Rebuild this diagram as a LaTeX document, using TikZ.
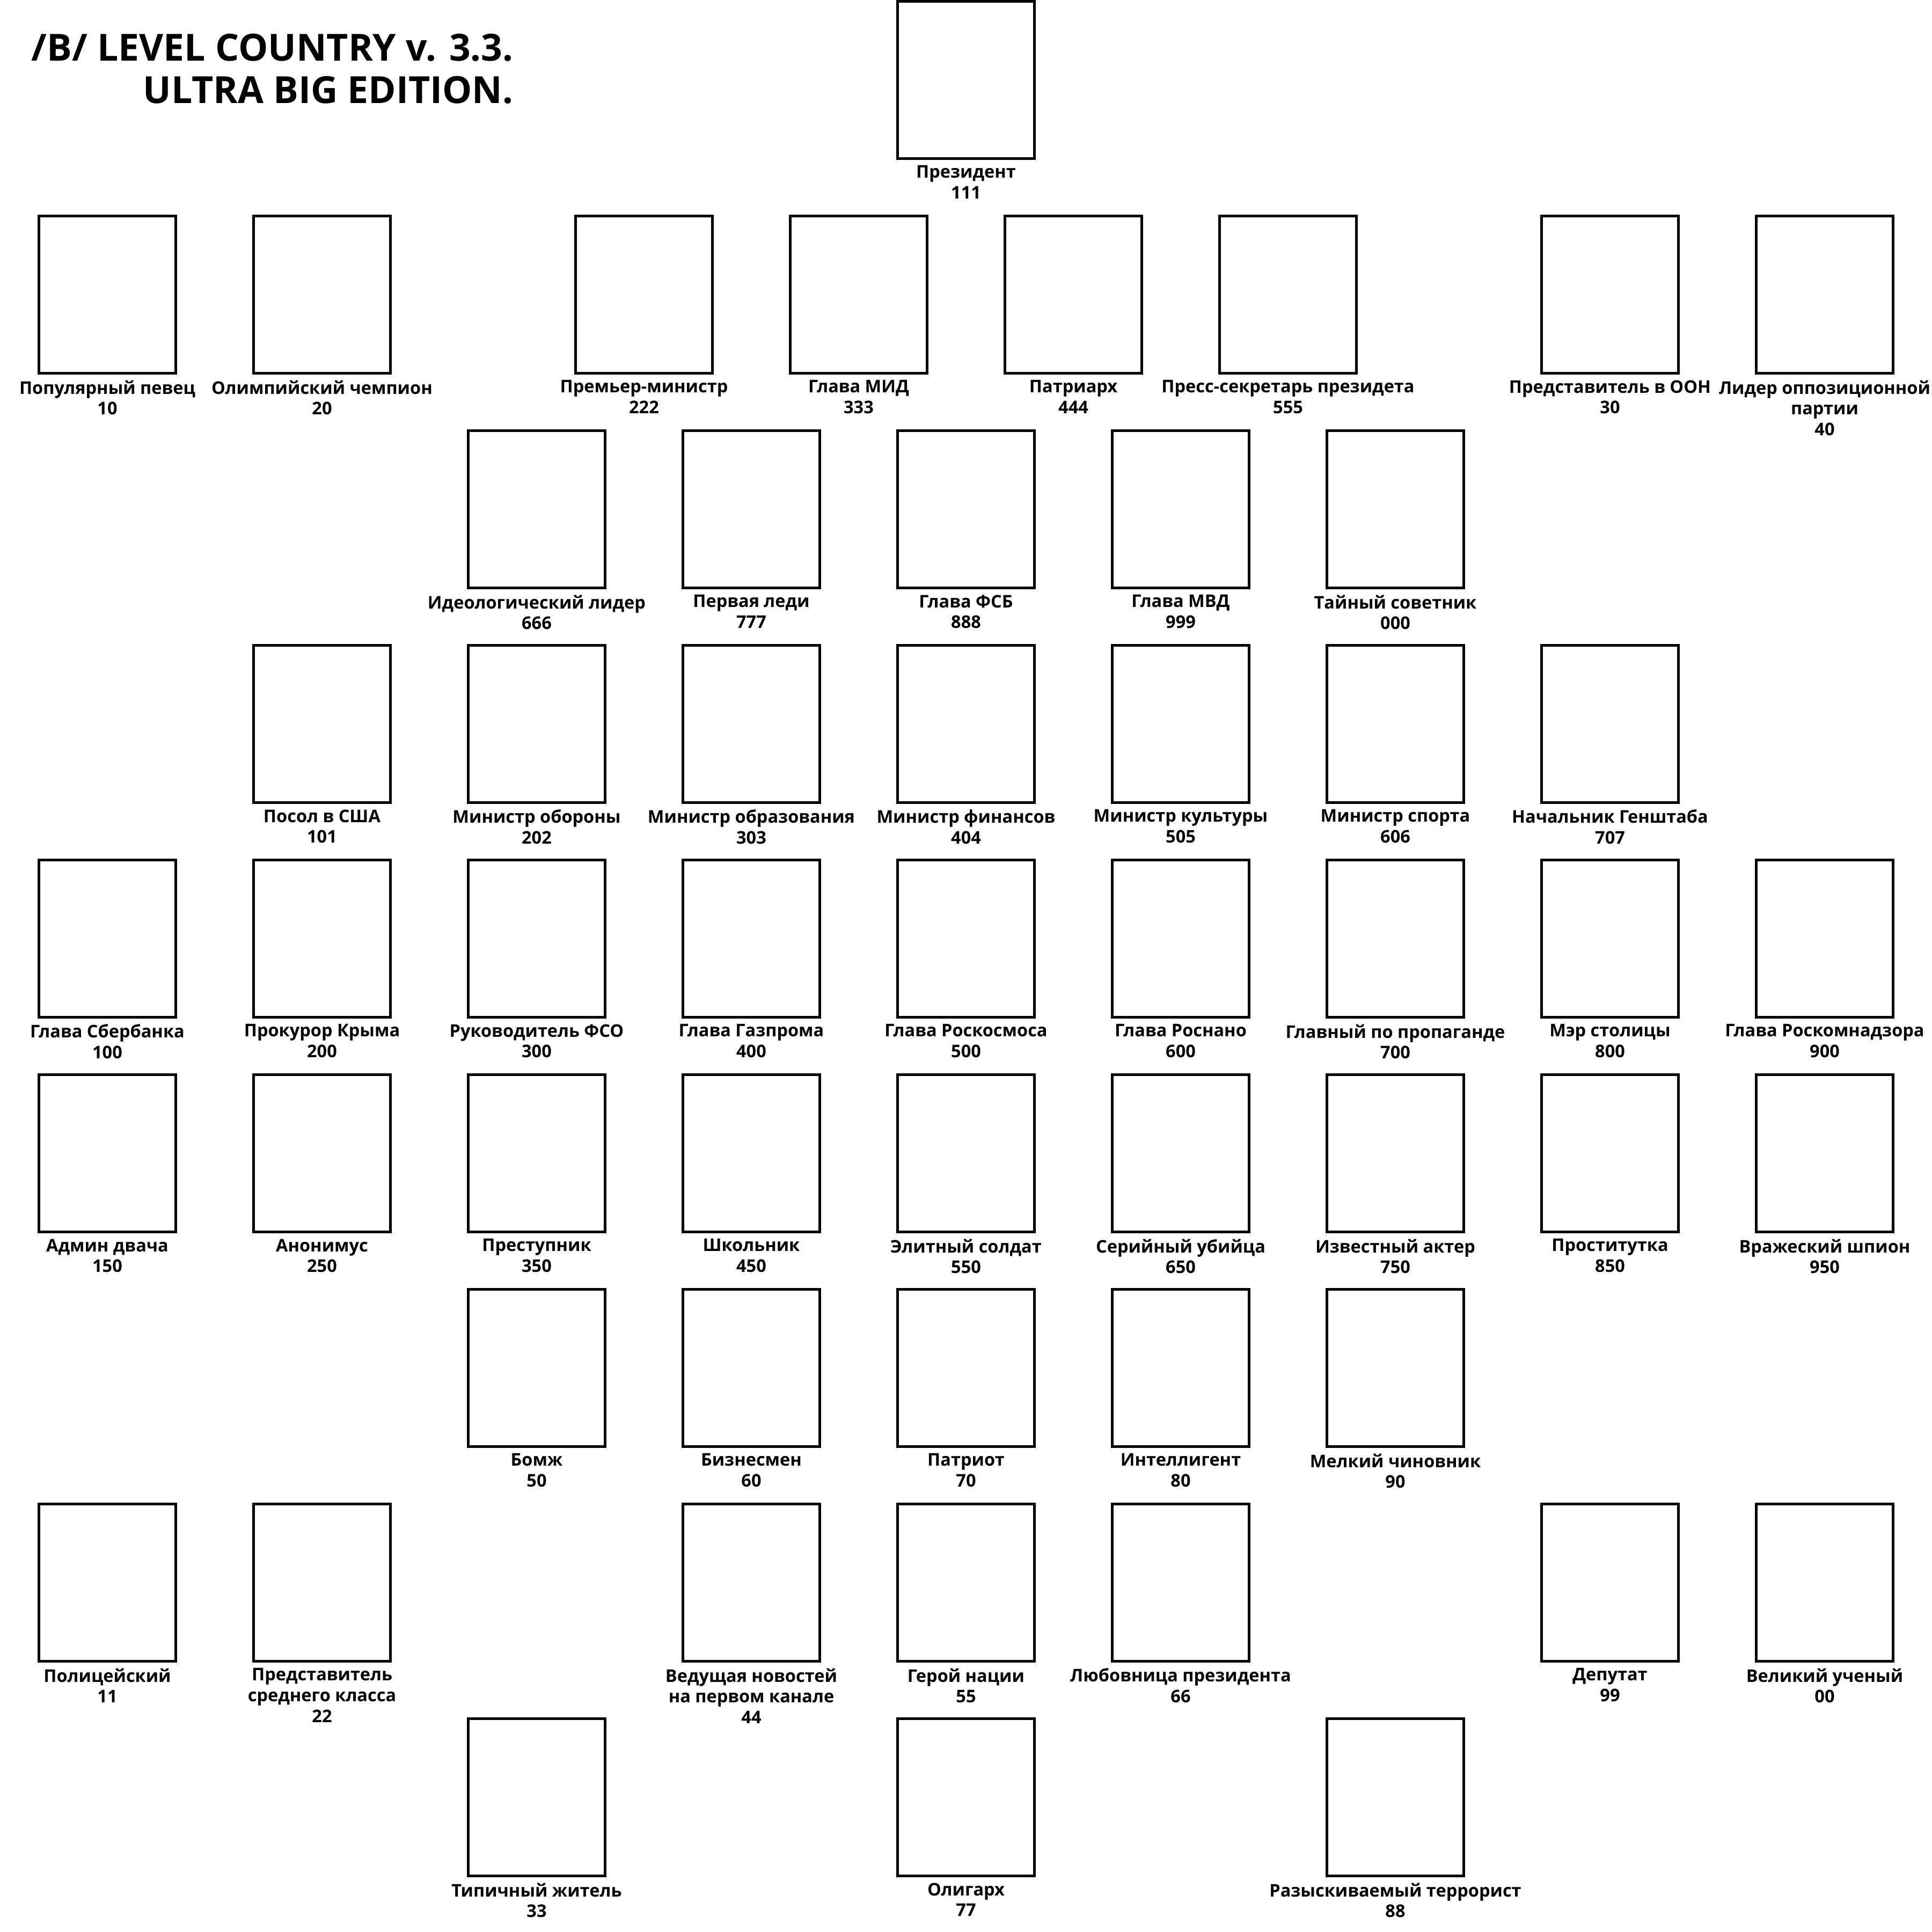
\documentclass[tikz,border=0pt]{standalone}
\usepackage{fontspec}
\setmainfont{Open Sans}
\usetikzlibrary{positioning}

\begin{document}
\begin{tikzpicture}[font=\bfseries,
 card/.style={draw,line width=0.05cm,minimum width=2.55cm,minimum height=2.93cm,inner sep=0pt},
 lb/.style={inner sep=0pt,align=center,font=\fontsize{9.25pt}{11pt}\selectfont\bfseries,execute at begin node=\strut},
 ttl/.style={inner sep=0pt,anchor=base east,font=\fontsize{19.8pt}{24pt}\selectfont\bfseries}]
\fill[white] (0,0) rectangle (36,-36);
\useasboundingbox (0,0) rectangle (36,-36);
\node[ttl] (t1) at (9.57,-1.14) {/B/ LEVEL COUNTRY v. 3.3.};
\node[ttl] (t2) at (9.57,-1.93) {ULTRA BIG EDITION.};
% row 1
\node[card] (c111) at (18,-1.49) {}; \node[lb,below=0.1cm of c111] (l111) {Президент\\111};
% row 2
\node[card] (c10) at (2,-5.49) {}; \node[lb,below=0.1cm of c10] (l10) {Популярный певец\\10};
\node[card] (c20) at (6,-5.49) {}; \node[lb,below=0.1cm of c20] (l20) {Олимпийский чемпион\\20};
\node[card] (c222) at (12,-5.49) {}; \node[lb,below=0.1cm of c222] (l222) {Премьер-министр\\222};
\node[card] (c333) at (16,-5.49) {}; \node[lb,below=0.1cm of c333] (l333) {Глава МИД\\333};
\node[card] (c444) at (20,-5.49) {}; \node[lb,below=0.1cm of c444] (l444) {Патриарх\\444};
\node[card] (c555) at (24,-5.49) {}; \node[lb,below=0.1cm of c555] (l555) {Пресс-секретарь президета\\555};
\node[card] (c30) at (30,-5.49) {}; \node[lb,below=0.1cm of c30] (l30) {Представитель в ООН\\30};
\node[card] (c40) at (34,-5.49) {}; \node[lb,below=0.1cm of c40] (l40) {Лидер оппозиционной\\партии\\40};
% row 3
\node[card] (c666) at (10,-9.49) {}; \node[lb,below=0.1cm of c666] (l666) {Идеологический лидер\\666};
\node[card] (c777) at (14,-9.49) {}; \node[lb,below=0.1cm of c777] (l777) {Первая леди\\777};
\node[card] (c888) at (18,-9.49) {}; \node[lb,below=0.1cm of c888] (l888) {Глава ФСБ\\888};
\node[card] (c999) at (22,-9.49) {}; \node[lb,below=0.1cm of c999] (l999) {Глава МВД\\999};
\node[card] (c000) at (26,-9.49) {}; \node[lb,below=0.1cm of c000] (l000) {Тайный советник\\000};
% row 4
\node[card] (c101) at (6,-13.49) {}; \node[lb,below=0.1cm of c101] (l101) {Посол в США\\101};
\node[card] (c202) at (10,-13.49) {}; \node[lb,below=0.1cm of c202] (l202) {Министр обороны\\202};
\node[card] (c303) at (14,-13.49) {}; \node[lb,below=0.1cm of c303] (l303) {Министр образования\\303};
\node[card] (c404) at (18,-13.49) {}; \node[lb,below=0.1cm of c404] (l404) {Министр финансов\\404};
\node[card] (c505) at (22,-13.49) {}; \node[lb,below=0.1cm of c505] (l505) {Министр культуры\\505};
\node[card] (c606) at (26,-13.49) {}; \node[lb,below=0.1cm of c606] (l606) {Министр спорта\\606};
\node[card] (c707) at (30,-13.49) {}; \node[lb,below=0.1cm of c707] (l707) {Начальник Генштаба\\707};
% row 5
\node[card] (c100) at (2,-17.49) {}; \node[lb,below=0.1cm of c100] (l100) {Глава Сбербанка\\100};
\node[card] (c200) at (6,-17.49) {}; \node[lb,below=0.1cm of c200] (l200) {Прокурор Крыма\\200};
\node[card] (c300) at (10,-17.49) {}; \node[lb,below=0.1cm of c300] (l300) {Руководитель ФСО\\300};
\node[card] (c400) at (14,-17.49) {}; \node[lb,below=0.1cm of c400] (l400) {Глава Газпрома\\400};
\node[card] (c500) at (18,-17.49) {}; \node[lb,below=0.1cm of c500] (l500) {Глава Роскосмоса\\500};
\node[card] (c600) at (22,-17.49) {}; \node[lb,below=0.1cm of c600] (l600) {Глава Роснано\\600};
\node[card] (c700) at (26,-17.49) {}; \node[lb,below=0.1cm of c700] (l700) {Главный по пропаганде\\700};
\node[card] (c800) at (30,-17.49) {}; \node[lb,below=0.1cm of c800] (l800) {Мэр столицы\\800};
\node[card] (c900) at (34,-17.49) {}; \node[lb,below=0.1cm of c900] (l900) {Глава Роскомнадзора\\900};
% row 6
\node[card] (c150) at (2,-21.49) {}; \node[lb,below=0.1cm of c150] (l150) {Админ двача\\150};
\node[card] (c250) at (6,-21.49) {}; \node[lb,below=0.1cm of c250] (l250) {Анонимус\\250};
\node[card] (c350) at (10,-21.49) {}; \node[lb,below=0.1cm of c350] (l350) {Преступник\\350};
\node[card] (c450) at (14,-21.49) {}; \node[lb,below=0.1cm of c450] (l450) {Школьник\\450};
\node[card] (c550) at (18,-21.49) {}; \node[lb,below=0.1cm of c550] (l550) {Элитный солдат\\550};
\node[card] (c650) at (22,-21.49) {}; \node[lb,below=0.1cm of c650] (l650) {Серийный убийца\\650};
\node[card] (c750) at (26,-21.49) {}; \node[lb,below=0.1cm of c750] (l750) {Известный актер\\750};
\node[card] (c850) at (30,-21.49) {}; \node[lb,below=0.1cm of c850] (l850) {Проститутка\\850};
\node[card] (c950) at (34,-21.49) {}; \node[lb,below=0.1cm of c950] (l950) {Вражеский шпион\\950};
% row 7
\node[card] (c50) at (10,-25.49) {}; \node[lb,below=0.1cm of c50] (l50) {Бомж\\50};
\node[card] (c60) at (14,-25.49) {}; \node[lb,below=0.1cm of c60] (l60) {Бизнесмен\\60};
\node[card] (c70) at (18,-25.49) {}; \node[lb,below=0.1cm of c70] (l70) {Патриот\\70};
\node[card] (c80) at (22,-25.49) {}; \node[lb,below=0.1cm of c80] (l80) {Интеллигент\\80};
\node[card] (c90) at (26,-25.49) {}; \node[lb,below=0.1cm of c90] (l90) {Мелкий чиновник\\90};
% row 8
\node[card] (c11) at (2,-29.49) {}; \node[lb,below=0.1cm of c11] (l11) {Полицейский\\11};
\node[card] (c22) at (6,-29.49) {}; \node[lb,below=0.1cm of c22] (l22) {Представитель\\среднего класса\\22};
\node[card] (c44) at (14,-29.49) {}; \node[lb,below=0.1cm of c44] (l44) {Ведущая новостей\\на первом канале\\44};
\node[card] (c55) at (18,-29.49) {}; \node[lb,below=0.1cm of c55] (l55) {Герой нации\\55};
\node[card] (c66) at (22,-29.49) {}; \node[lb,below=0.1cm of c66] (l66) {Любовница президента\\66};
\node[card] (c99) at (30,-29.49) {}; \node[lb,below=0.1cm of c99] (l99) {Депутат\\99};
\node[card] (c00) at (34,-29.49) {}; \node[lb,below=0.1cm of c00] (l00) {Великий ученый\\00};
% row 9
\node[card] (c33) at (10,-33.49) {}; \node[lb,below=0.1cm of c33] (l33) {Типичный житель\\33};
\node[card] (c77) at (18,-33.49) {}; \node[lb,below=0.1cm of c77] (l77) {Олигарх\\77};
\node[card] (c88) at (26,-33.49) {}; \node[lb,below=0.1cm of c88] (l88) {Разыскиваемый террорист\\88};
\end{tikzpicture}
\end{document}
